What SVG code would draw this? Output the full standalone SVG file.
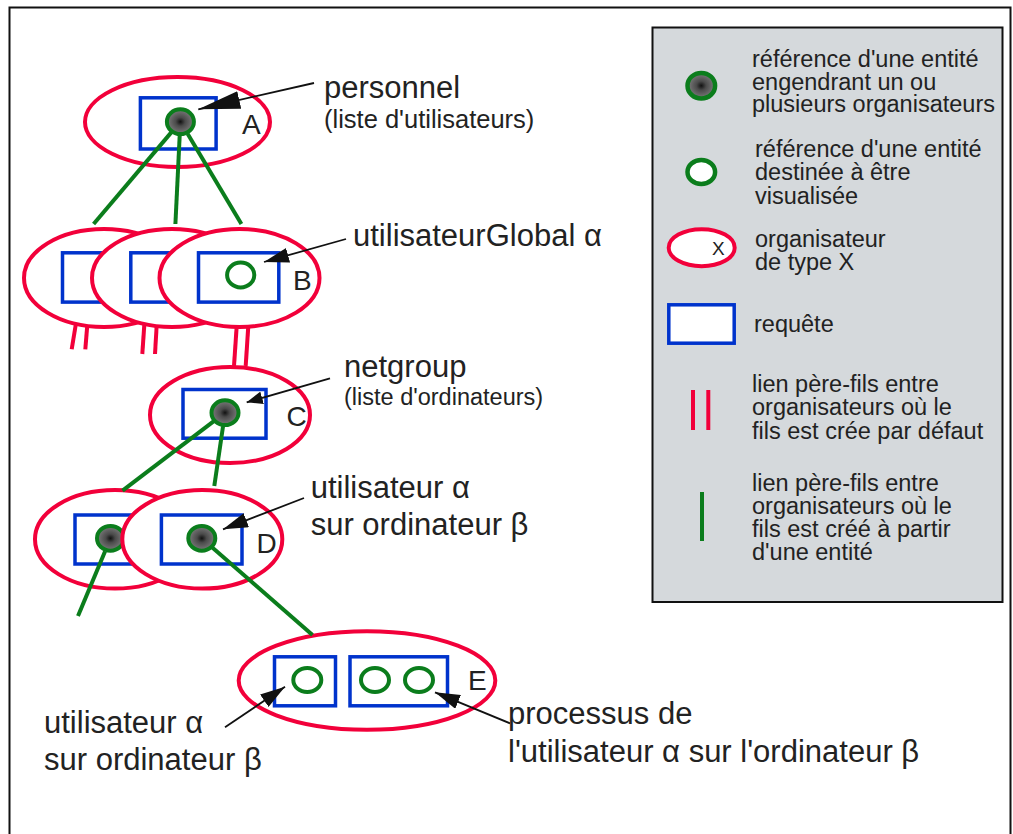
<svg xmlns="http://www.w3.org/2000/svg" width="1013" height="834" viewBox="0 0 1013 834">
  <style>
    .org { fill: #ffffff; stroke: #f2003a; stroke-width: 4; }
    .req { fill: #ffffff; stroke: #0033cc; stroke-width: 3.5; }
    .ent { fill: url(#entityFill); stroke: #0b7d1c; stroke-width: 4; }
    .vis { fill: #ffffff; stroke: #0b7d1c; stroke-width: 4; }
    .tag { font-family: "Liberation Sans", Arial, sans-serif; font-size: 28px; fill: #222; }
    .big { font-family: "Liberation Sans", Arial, sans-serif; font-size: 31px; fill: #222; }
    .sub { font-family: "Liberation Sans", Arial, sans-serif; fill: #222; }
    .leg { font-family: "Liberation Sans", Arial, sans-serif; font-size: 23.5px; fill: #222; }
    .link { stroke: #0b7d1c; stroke-width: 4; fill: none; }
    .dflt { stroke: #f2003a; stroke-width: 4; fill: none; }
    .ptr { stroke: #111; stroke-width: 1.8; fill: none; }
  </style>
  <defs>
    <radialGradient id="entityFill" cx="50%" cy="50%" r="50%">
      <stop offset="0" stop-color="#111"/>
      <stop offset="0.35" stop-color="#4a4a4a"/>
      <stop offset="1" stop-color="#7c7c7c"/>
    </radialGradient>
    <marker id="head-lg" markerUnits="userSpaceOnUse" viewBox="0 0 42 18" markerWidth="42" markerHeight="18" refX="42" refY="9" orient="auto">
      <path d="M0,0 L42,9 L0,18 z" fill="#111"/>
    </marker>
    <marker id="head" markerUnits="userSpaceOnUse" viewBox="0 0 25 15" markerWidth="25" markerHeight="15" refX="25" refY="7.5" orient="auto">
      <path d="M0,0 L25,7.5 L0,15 z" fill="#111"/>
    </marker>
    <marker id="head-sm" markerUnits="userSpaceOnUse" viewBox="0 0 16 13" markerWidth="16" markerHeight="13" refX="16" refY="6.5" orient="auto">
      <path d="M0,0 L16,6.5 L0,13 z" fill="#111"/>
    </marker>
  </defs>

  <rect width="1013" height="834" fill="#ffffff"/>
  <!-- outer frame -->
  <rect x="9.5" y="7.5" width="1001" height="840" fill="none" stroke="#111" stroke-width="2"/>

  <!-- legend -->
  <g id="legend">
    <rect x="652.5" y="27.5" width="350" height="574.5" fill="#d5d9dc" stroke="#111" stroke-width="2"/>
    <ellipse class="ent" cx="701.3" cy="85.7" rx="13.8" ry="12.8" style="stroke-width:4.5"/>
    <text class="leg" x="752" y="67">référence d'une entité</text>
    <text class="leg" x="752" y="89.5">engendrant un ou</text>
    <text class="leg" x="752" y="112">plusieurs organisateurs</text>

    <ellipse class="vis" cx="701.3" cy="172" rx="13.8" ry="12" style="stroke-width:4.5"/>
    <text class="leg" x="755" y="157">référence d'une entité</text>
    <text class="leg" x="755" y="180">destinée à être</text>
    <text class="leg" x="755" y="203.5">visualisée</text>

    <ellipse class="org" cx="701.7" cy="247.7" rx="33" ry="18.5"/>
    <text class="sub" x="712" y="255" font-size="19">X</text>
    <text class="leg" x="755" y="247">organisateur</text>
    <text class="leg" x="755" y="270">de type X</text>

    <rect class="req" x="668.8" y="304.8" width="65.4" height="38.4"/>
    <text class="leg" x="754" y="332">requête</text>

    <line class="dflt" x1="693" y1="390" x2="693" y2="430"/>
    <line class="dflt" x1="708.3" y1="390" x2="708.3" y2="430"/>
    <text class="leg" x="752" y="392">lien père-fils entre</text>
    <text class="leg" x="752" y="415">organisateurs où le</text>
    <text class="leg" x="752" y="438.5">fils est crée par défaut</text>

    <line class="link" x1="702" y1="492" x2="702" y2="541"/>
    <text class="leg" x="752" y="491">lien père-fils entre</text>
    <text class="leg" x="752" y="513.5">organisateurs où le</text>
    <text class="leg" x="752" y="537">fils est créé à partir</text>
    <text class="leg" x="752" y="560">d'une entité</text>
  </g>

  <!-- organiser A -->
  <g id="node-A">
    <ellipse class="org" cx="177.5" cy="122" rx="92.5" ry="45"/>
    <rect class="req" x="140.4" y="97.8" width="75.7" height="51.2"/>
    <ellipse class="ent" cx="180.4" cy="121.7" rx="13.5" ry="12.4"/>
    <text class="tag" x="242" y="134">A</text>
  </g>

  <!-- organisers B (three instances) -->
  <g id="node-B1">
    <ellipse class="org" cx="104" cy="278" rx="80" ry="49"/>
    <rect class="req" x="62.5" y="252.8" width="80.3" height="49.3"/>
  </g>
  <g id="node-B2">
    <ellipse class="org" cx="172" cy="278" rx="80" ry="49"/>
    <rect class="req" x="130.8" y="252.8" width="80.3" height="49.3"/>
  </g>
  <g id="node-B">
    <ellipse class="org" cx="239.5" cy="278" rx="80" ry="49"/>
    <rect class="req" x="198.5" y="252.8" width="80.3" height="49.3"/>
    <ellipse class="vis" cx="240.7" cy="275" rx="13.6" ry="12.4"/>
    <text class="tag" x="293" y="290">B</text>
  </g>

  <!-- organiser C -->
  <g id="node-C">
    <ellipse class="org" cx="230" cy="415" rx="80" ry="48"/>
    <rect class="req" x="183" y="389.5" width="83" height="48.7"/>
    <ellipse class="ent" cx="225" cy="412.7" rx="13.5" ry="12.4"/>
    <text class="tag" x="286.5" y="425.5">C</text>
  </g>

  <!-- organisers D -->
  <g id="node-D1">
    <ellipse class="org" cx="115" cy="539.3" rx="80" ry="49.3"/>
    <rect class="req" x="75" y="515" width="80.6" height="49"/>
    <ellipse class="ent" cx="110.5" cy="538.3" rx="13.5" ry="12.4"/>
  </g>
  <g id="node-D">
    <ellipse class="org" cx="202.3" cy="539.3" rx="80" ry="49.3"/>
    <rect class="req" x="161.4" y="515" width="80.6" height="49"/>
    <ellipse class="ent" cx="201.8" cy="538.3" rx="13.5" ry="12.4"/>
    <text class="tag" x="256.4" y="553">D</text>
  </g>

  <!-- organiser E -->
  <g id="node-E">
    <ellipse class="org" cx="367" cy="680.5" rx="128.3" ry="49.2"/>
    <rect class="req" x="274.5" y="656.8" width="61" height="49"/>
    <rect class="req" x="350" y="656.8" width="97.5" height="49"/>
    <ellipse class="vis" cx="307.3" cy="680" rx="14" ry="12"/>
    <ellipse class="vis" cx="375" cy="680" rx="14" ry="12"/>
    <ellipse class="vis" cx="419" cy="680" rx="14" ry="12"/>
    <text class="tag" x="468" y="690">E</text>
  </g>

  <!-- parent/child links -->
  <g id="connectors">
    <line class="link" x1="171.3" y1="132.4" x2="93.6" y2="224"/>
    <line class="link" x1="179.7" y1="135.5" x2="175.4" y2="224"/>
    <line class="link" x1="187.6" y1="133.7" x2="241.4" y2="224"/>

    <line class="dflt" x1="75.7" y1="325" x2="71.7" y2="349.3"/>
    <line class="dflt" x1="87.3" y1="325" x2="85.3" y2="349.3"/>
    <line class="dflt" x1="144.3" y1="325" x2="142.3" y2="354"/>
    <line class="dflt" x1="156.7" y1="325" x2="155" y2="354"/>
    <line class="dflt" x1="236.7" y1="326" x2="234" y2="366"/>
    <line class="dflt" x1="248.3" y1="326" x2="245.7" y2="366"/>

    <line class="link" x1="213.9" y1="421.2" x2="122.5" y2="490.7"/>
    <line class="link" x1="223" y1="426.5" x2="214.3" y2="486"/>

    <line class="link" x1="105.1" y1="551.2" x2="78" y2="616"/>
    <line class="link" x1="212.3" y1="547.5" x2="312.5" y2="635"/>
  </g>

  <!-- annotations -->
  <g id="callouts">
    <line class="ptr" x1="314" y1="83" x2="198.3" y2="109.3" marker-end="url(#head-lg)"/>
    <text class="big" x="324" y="98.3">personnel</text>
    <text class="sub" x="324" y="128" font-size="25.5">(liste d'utilisateurs)</text>

    <line class="ptr" x1="346" y1="239" x2="264" y2="262" marker-end="url(#head)"/>
    <text class="big" x="353" y="246">utilisateurGlobal α</text>

    <line class="ptr" x1="330" y1="378.3" x2="246.7" y2="402.3" marker-end="url(#head-sm)"/>
    <text class="big" x="344" y="376.7">netgroup</text>
    <text class="sub" x="344" y="405" font-size="23.5">(liste d'ordinateurs)</text>

    <line class="ptr" x1="304" y1="498" x2="223" y2="529.3" marker-end="url(#head)"/>
    <text class="big" x="310.7" y="498.3">utilisateur α</text>
    <text class="big" x="310.7" y="535">sur ordinateur β</text>

    <line class="ptr" x1="225" y1="727.3" x2="285" y2="686.7" marker-end="url(#head)"/>
    <text class="big" x="44" y="732.7">utilisateur α</text>
    <text class="big" x="44" y="770">sur ordinateur β</text>

    <line class="ptr" x1="510" y1="723.3" x2="435" y2="692.3" marker-end="url(#head)"/>
    <text class="big" x="508" y="724">processus de</text>
    <text class="big" x="508" y="761.7">l'utilisateur α sur l'ordinateur β</text>
  </g>
</svg>
